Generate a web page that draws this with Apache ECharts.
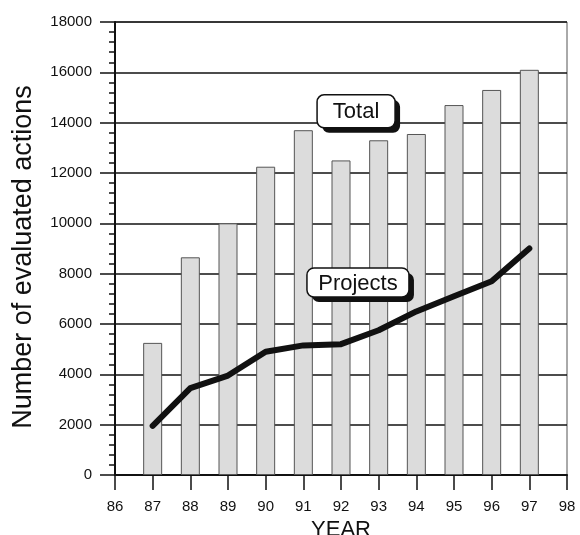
<!DOCTYPE html>
<html>
<head>
<meta charset="utf-8">
<script src="https://cdn.jsdelivr.net/npm/echarts@6/dist/echarts.min.js"></script>
<style>
html,body{margin:0;padding:0;background:#fff;}
#chart{width:580px;height:535px;}
</style>
</head>
<body>
<div id="chart"></div>
<script>
var years = [87, 88, 89, 90, 91, 92, 93, 94, 95, 96, 97];
var totalValues = [5250, 8650, 10000, 12250, 13700, 12500, 13300, 13550, 14700, 15300, 16100];
var projectValues = [1950, 3450, 3950, 4900, 5150, 5200, 5750, 6500, 7100, 7700, 9000];
var xTicks = [86, 98, 1];   // min, max, interval
var yTicks = [0, 18000, 2000];
var yTitle = 'Number of evaluated actions';
var xTitle = 'YEAR';
var labelTotal = {text: 'Total', at: [92.4, 14450]};
var labelProjects = {text: 'Projects', at: [92.45, 7650]};

var FONT = '"Liberation Sans", Arial, sans-serif';
var chart = echarts.init(document.getElementById('chart'), null, {renderer: 'canvas'});

var option = {
  backgroundColor: '#fff',
  animation: false,
  textStyle: {fontFamily: FONT, color: '#111'},
  grid: {left: 115, right: 13, top: 22, bottom: 60, show: true, borderColor: '#555', borderWidth: 1,
         backgroundColor: 'transparent', containLabel: false, outerBoundsMode: 'none'},
  xAxis: {
    type: 'value', min: xTicks[0], max: xTicks[1], interval: xTicks[2],
    name: xTitle, nameLocation: 'middle', nameGap: 30,
    nameTextStyle: {fontFamily: FONT, fontSize: 22, color: '#111'},
    axisLine: {show: true, onZero: false, lineStyle: {color: '#111', width: 2}},
    axisTick: {show: true, length: 15, inside: false, lineStyle: {color: '#111', width: 1.5}},
    axisLabel: {fontFamily: FONT, fontSize: 15, color: '#111', margin: 24,
                formatter: function (v) { return String(v); }},
    splitLine: {show: false}
  },
  yAxis: {
    type: 'value', min: yTicks[0], max: yTicks[1], interval: yTicks[2],
    axisLine: {show: true, lineStyle: {color: '#111', width: 2}},
    axisTick: {show: true, length: 15, inside: false, lineStyle: {color: '#111', width: 1.5}},
    minorTick: {show: true, splitNumber: 5, length: 6, lineStyle: {color: '#111', width: 1.5}},
    axisLabel: {fontFamily: FONT, fontSize: 15, color: '#111', margin: 23,
                formatter: function (v) { return String(v); }},
    splitLine: {show: true, lineStyle: {color: '#111', width: 1.5}}
  },
  series: [
    {
      name: 'Total', type: 'bar', barWidth: 19,
      data: years.map(function (y, i) { return [y, totalValues[i]]; }),
      itemStyle: {color: '#dcdcdc', borderColor: '#555', borderWidth: 1},
      z: 2
    },
    {
      name: 'Projects', type: 'line', showSymbol: false, symbol: 'none',
      data: years.map(function (y, i) { return [y, projectValues[i]]; }),
      lineStyle: {color: '#111', width: 6, cap: 'round', join: 'round'},
      z: 3
    }
  ]
};
chart.setOption(option);

function makeBox(lbl, w, h, id) {
  var p = chart.convertToPixel({gridIndex: 0}, lbl.at);
  var x = p[0] - w / 2, y = p[1] - h / 2;
  return {
    type: 'group', id: id, z: 100,
    children: [
      {type: 'rect', shape: {x: x + 5, y: y + 5, width: w, height: h, r: 7}, style: {fill: '#111'}, z: 100},
      {type: 'rect', shape: {x: x, y: y, width: w, height: h, r: 7}, style: {fill: '#fff', stroke: '#111', lineWidth: 1.5}, z: 101},
      {type: 'text', x: p[0], y: p[1] + 1, style: {text: lbl.text, fontFamily: FONT, fontSize: 22, fill: '#111', align: 'center', verticalAlign: 'middle'}, z: 102}
    ]
  };
}

chart.setOption({
  graphic: [
    makeBox(labelTotal, 78, 33, 'gTotal'),
    makeBox(labelProjects, 102, 29, 'gProj'),
    {type: 'text', id: 'ytitle', x: 24, y: 257, rotation: Math.PI / 2,
     style: {text: yTitle, fontFamily: FONT, fontSize: 27, fill: '#111', align: 'center', verticalAlign: 'middle'}, z: 50}
  ]
});
</script>
</body>
</html>
